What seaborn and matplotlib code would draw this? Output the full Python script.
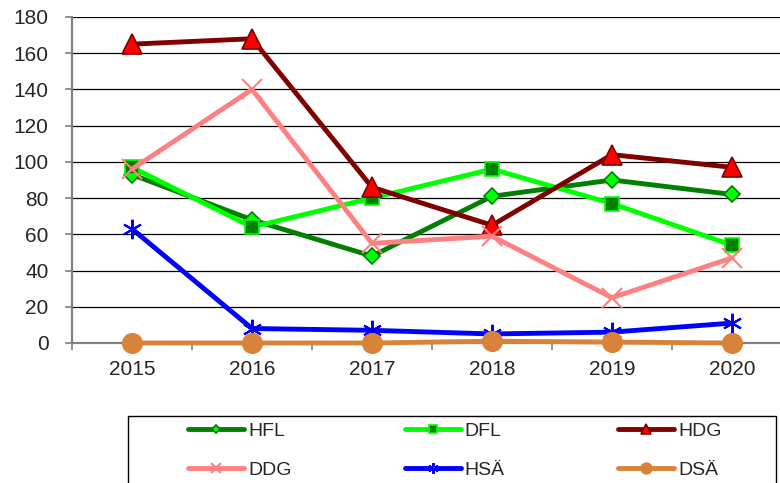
import seaborn as sns
import numpy as np
import matplotlib.pyplot as plt
import pandas as pd
from matplotlib.patches import Rectangle

years = [2015, 2016, 2017, 2018, 2019, 2020]
hfl = [93, 68, 48, 81, 90, 82]
dfl = [97, 64, 80, 96, 77, 54]
hdg = [165, 168, 86, 65, 104, 97]
ddg = [96, 140, 55, 59, 25, 47]
hsa = [63, 8, 7, 5, 6, 11]
dsa = [0, 0, 0, 1, 0.5, 0]

series = {"HFL": hfl, "DFL": dfl, "HDG": hdg, "DDG": ddg, "HSÄ": hsa, "DSÄ": dsa}

# line colour, marker, face, edge, size
styles = {
    "HFL": ("#008000", "D", "#00ff00", "#008000", 8),
    "DFL": ("#00ff00", "s", "#008000", "#00ff00", 10),
    "HDG": ("#800000", "^", "#ff0000", "#800000", 14),
    "DDG": ("#ff8080", "x", "#ff8080", "#ff8080", 14),
    "HSÄ": ("#0000ff", (6, 2, 0), "#0000ff", "#0000ff", 14),
    "DSÄ": ("#d9833a", "o", "#d9833a", "#d9833a", 14),
}

sns.set_style("white")
plt.rcParams["font.family"] = ["Liberation Sans", "DejaVu Sans"]

fig = plt.figure(figsize=(7.8, 4.83), dpi=100)
ax = fig.add_axes([72 / 780, 140 / 483, 720 / 780, 326 / 483])

df = pd.DataFrame({"year": years, **series})
for name in series:
    col, mk, fc, ec, ms = styles[name]
    thin = mk in ("x", (6, 2, 0))
    sns.lineplot(data=df, x="year", y=name, ax=ax, color=col, linewidth=3.5,
                 marker=mk, markersize=ms, markerfacecolor=fc,
                 markeredgecolor=ec, markeredgewidth=1.5 if thin else 1.2,
                 label=name, zorder=3, clip_on=False)

ax.set_xlim(2014.5, 2020.5)
ax.set_ylim(0, 180)
ax.set_yticks(np.arange(0, 181, 20))
ax.set_xticks(years)
ax.set_xticks(np.arange(2014.5, 2021, 1), minor=True)
ax.set_xlabel("")
ax.set_ylabel("")

ax.grid(True, axis="y", color="black", linewidth=0.9)
ax.grid(False, axis="x")
for s in ["top", "right"]:
    ax.spines[s].set_visible(False)
ax.spines["left"].set_color("#808080")
ax.spines["left"].set_linewidth(1.6)
ax.spines["bottom"].set_color("#808080")
ax.spines["bottom"].set_linewidth(1.6)

ax.tick_params(axis="y", which="major", length=5, width=1.2, color="#808080",
               direction="out", left=True, labelsize=15, pad=12)
ax.tick_params(axis="x", which="major", length=0, labelsize=15, pad=12)
ax.tick_params(axis="x", which="minor", length=5, width=1.2, color="#808080",
               direction="out", bottom=True)

handles, labels = ax.get_legend_handles_labels()
ax.get_legend().remove()
# legend reads row by row, matplotlib fills column by column
order = [0, 3, 1, 4, 2, 5]
handles = [handles[i] for i in order]
labels = [labels[i] for i in order]
leg = fig.legend(handles, labels, loc="upper left", ncol=3,
                 bbox_to_anchor=(188 / 780, 1 - 422 / 483),
                 frameon=False, fontsize=14,
                 handlelength=2.9, handletextpad=0.2, borderaxespad=0,
                 columnspacing=5.8, labelspacing=1.1, borderpad=0,
                 markerscale=0.55)

frame = Rectangle((128 / 780, -0.05), 648 / 780, 0.05 + (483 - 416) / 483,
                  transform=fig.transFigure, fill=False, edgecolor="black",
                  linewidth=1.0)
fig.patches.append(frame)

plt.savefig("out.png", dpi=100)
